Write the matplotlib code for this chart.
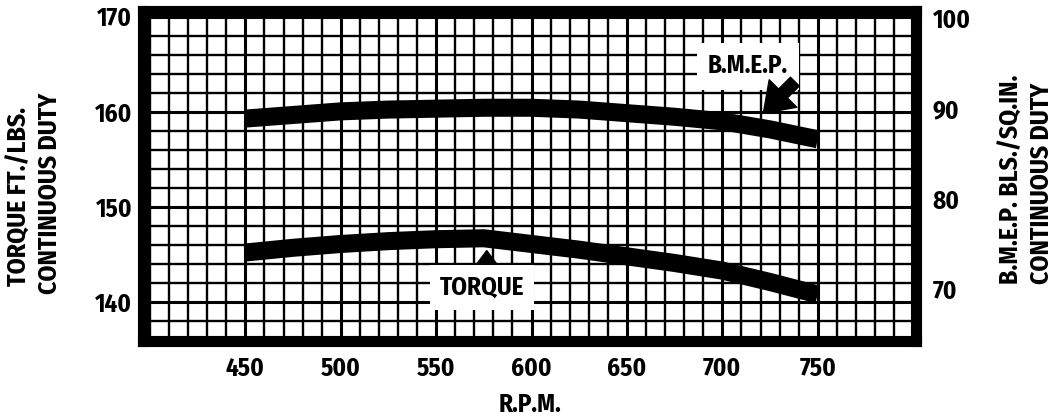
import matplotlib
matplotlib.use("Agg")
import matplotlib.pyplot as plt

# readings
rpm = [450, 475, 500, 525, 550, 575, 600, 625, 650, 675, 700, 725, 750]
torque = [145.2, 145.7, 146.1, 146.4, 146.6, 146.7, 146.1, 145.5, 144.8, 144.1, 143.3, 142.1, 140.8]
bmep = [88.9, 89.3, 89.7, 89.9, 90.0, 90.1, 90.1, 89.9, 89.5, 89.1, 88.6, 87.7, 86.6]

rpm_ticks = [450, 500, 550, 600, 650, 700, 750]
torque_ticks = [140, 150, 160, 170]
bmep_ticks = [70, 80, 90, 100]

plt.rcParams['font.family'] = ['Fira Sans Condensed', 'DejaVu Sans']
plt.rcParams['font.weight'] = 'bold'
plt.rcParams['axes.labelweight'] = 'bold'

fig = plt.figure(figsize=(10.57, 4.19), dpi=100)
ax = fig.add_axes([0.1356, 0.1862, 0.7310, 0.7876])
ax.set_xlim(396.5, 801.5)
ax.set_ylim(135.9, 170.6)

# dense graph-paper grid
ax.set_xticks(rpm_ticks)
ax.set_xticks(range(400, 801, 10), minor=True)
ax.set_yticks(torque_ticks)
ax.set_yticks(range(136, 171, 2), minor=True)
ax.grid(which='minor', color='black', linewidth=1.7)
ax.grid(which='major', color='black', linewidth=2.2)
ax.set_axisbelow(True)
ax.tick_params(which='both', length=0)
ax.tick_params(axis='y', labelsize=18, pad=8)
ax.tick_params(axis='x', labelsize=18, pad=11)
for s in ax.spines.values():
    s.set_linewidth(8)
    s.set_zorder(5)

ax.plot(rpm, torque, color='black', linewidth=13, solid_capstyle='butt', zorder=3)

ax2 = ax.twinx()
ax2.set_ylim(64.22, 100.84)
ax2.set_yticks(bmep_ticks)
ax2.tick_params(length=0, labelsize=18, pad=12)
for s in ax2.spines.values():
    s.set_visible(False)
ax2.plot(rpm, bmep, color='black', linewidth=13, solid_capstyle='butt', zorder=3)

# annotations
ax.annotate('', xy=(576.5, 145.4), xytext=(576.5, 142.9),
            arrowprops=dict(arrowstyle='simple,head_width=1.5,head_length=1.0,tail_width=0.5',
                            mutation_scale=10, color='black', shrinkA=0, shrinkB=0), zorder=6)
ax.text(574, 141.5, 'TORQUE', fontsize=18, ha='center', va='center', zorder=6,
        bbox=dict(boxstyle='square,pad=0.4', facecolor='white', edgecolor='none'))
ax2.annotate('', xy=(721.5, 159.5 - 70), xytext=(738, 163.0 - 70),
             arrowprops=dict(arrowstyle='simple,head_width=2.8,head_length=2.0,tail_width=0.9',
                             mutation_scale=10, color='black', shrinkA=0, shrinkB=0), zorder=6)
ax.text(713.4, 164.8, 'B.M.E.P.', fontsize=18, ha='center', va='center', zorder=6,
        bbox=dict(boxstyle='square,pad=0.45', facecolor='white', edgecolor='none'))

ax.set_xlabel('R.P.M.', fontsize=18, labelpad=8)

fig.text(20 / 1057, 1 - 196 / 419, 'TORQUE FT./LBS.', rotation=90, fontsize=18.5,
         ha='center', va='center')
fig.text(50 / 1057, 1 - 193 / 419, 'CONTINUOUS DUTY', rotation=90, fontsize=18.5,
         ha='center', va='center')
fig.text(1012 / 1057, 1 - 179 / 419, 'B.M.E.P. BLS./SQ.IN.', rotation=90, fontsize=18.5,
         ha='center', va='center')
fig.text(1042 / 1057, 1 - 183 / 419, 'CONTINUOUS DUTY', rotation=90, fontsize=18.5,
         ha='center', va='center')

fig.savefig('out.png', dpi=100)
